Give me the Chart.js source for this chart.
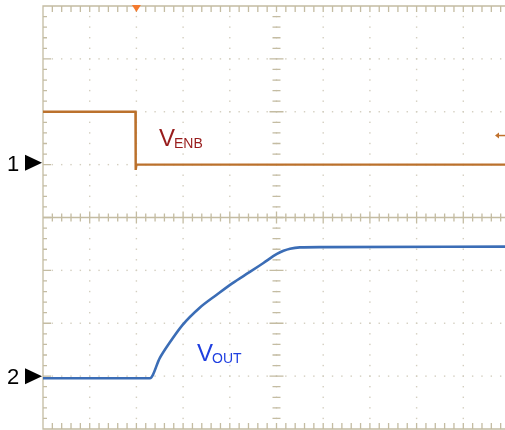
<!DOCTYPE html>
<html>
<head>
<meta charset="utf-8">
<script src="https://cdn.jsdelivr.net/npm/chart.js@4.4.1/dist/chart.umd.min.js"></script>
<style>
  html, body { margin: 0; padding: 0; background: #fff; overflow: hidden; }
  #scope { display: block; }
</style>
</head>
<body>
<canvas id="scope" width="515" height="430"></canvas>
<script>
// time in divisions (10 across), level in divisions (8 high, 0 = bottom)
const enbTime  = [0, 1.98, 1.985, 2.0, 10];
const enbLevel = [6.0, 6.0, 4.9, 5.0, 5.0];

const voutTime  = [0, 2.29, 2.50, 2.71, 2.99, 3.35, 3.72, 4.06, 4.43, 4.72, 5.01, 5.15, 5.29, 5.50, 6.0, 10];
const voutLevel = [0.96, 0.96, 1.34, 1.63, 1.97, 2.29, 2.54, 2.76, 2.97, 3.14, 3.31, 3.37, 3.41, 3.435, 3.44, 3.45];

const channelNames = ['1', '2'];
const channelGround = [5.0, 0.96];
const triggerTime = 2.0;
const triggerLevel = 5.55;

const pts = (xs, ys) => xs.map((t, i) => ({ x: t, y: ys[i] }));

const graticule = {
    id: 'graticule',
    beforeDatasetsDraw(chart) {
        const { ctx, chartArea: a, scales: { x, y } } = chart;
        ctx.save();
        // dotted division lines
        ctx.fillStyle = '#d3cebf';
        for (let i = 1; i < 10; i++) {
            if (i === 5) continue;
            const px = x.getPixelForValue(i);
            for (let j = 1; j < 40; j++) ctx.fillRect(px - 0.7, y.getPixelForValue(j * 0.2) - 0.7, 1.4, 1.4);
        }
        for (let j = 1; j < 8; j++) {
            if (j === 4) continue;
            const py = y.getPixelForValue(j);
            for (let i = 1; i < 50; i++) ctx.fillRect(x.getPixelForValue(i * 0.2) - 0.7, py - 0.7, 1.4, 1.4);
        }
        // center vertical dotted
        const cx = x.getPixelForValue(5), cy = y.getPixelForValue(4);
        for (let j = 1; j < 40; j++) ctx.fillRect(cx - 0.7, y.getPixelForValue(j * 0.2) - 0.7, 1.4, 1.4);

        ctx.strokeStyle = '#c4bca2';
        ctx.lineWidth = 1.3;
        // border
        ctx.beginPath();
        ctx.moveTo(a.right + 2, a.top); ctx.lineTo(a.left, a.top);
        ctx.lineTo(a.left, a.bottom); ctx.lineTo(a.right + 2, a.bottom);
        ctx.stroke();
        // center horizontal axis
        ctx.beginPath();
        ctx.moveTo(a.left, cy); ctx.lineTo(a.right + 2, cy);
        ctx.stroke();

        ctx.beginPath();
        for (let i = 1; i < 50; i++) {
            const px = x.getPixelForValue(i * 0.2);
            const major = i % 5 === 0;
            ctx.moveTo(px, a.top); ctx.lineTo(px, a.top + 6);
            ctx.moveTo(px, a.bottom); ctx.lineTo(px, a.bottom - 6);
            ctx.moveTo(px, cy - (major ? 6 : 4)); ctx.lineTo(px, cy + (major ? 6 : 4));
        }
        for (let j = 1; j < 40; j++) {
            const py = y.getPixelForValue(j * 0.2);
            const major = j % 5 === 0;
            ctx.moveTo(a.left, py); ctx.lineTo(a.left + (major ? 8 : 4), py);
            ctx.moveTo(cx - (major ? 7 : 4), py); ctx.lineTo(cx + (major ? 7 : 4), py);
        }
        ctx.stroke();
        ctx.restore();
    },
    afterDatasetsDraw(chart) {
        const { ctx, scales: { x, y }, chartArea: a } = chart;
        ctx.save();
        // channel ground markers
        ctx.fillStyle = '#000';
        ctx.font = '22px "Liberation Sans", Arial, sans-serif';
        ctx.textBaseline = 'alphabetic';
        channelNames.forEach((n, k) => {
            const py = y.getPixelForValue(channelGround[k]) - 2;
            ctx.fillText(n, 7, py + 8);
            ctx.beginPath();
            ctx.moveTo(25, py - 8); ctx.lineTo(25, py + 8); ctx.lineTo(42, py);
            ctx.closePath(); ctx.fill();
        });
        // trigger position marker
        const tx = x.getPixelForValue(triggerTime);
        ctx.fillStyle = '#f47a2e';
        ctx.beginPath();
        ctx.moveTo(tx - 4.5, a.top - 1); ctx.lineTo(tx + 4.5, a.top - 1); ctx.lineTo(tx, a.top + 6);
        ctx.closePath(); ctx.fill();
        // trigger level marker
        const ty = y.getPixelForValue(triggerLevel);
        ctx.fillStyle = '#c0712d';
        ctx.strokeStyle = '#c0712d';
        ctx.lineWidth = 1.5;
        ctx.beginPath();
        ctx.moveTo(495, ty); ctx.lineTo(499, ty - 3); ctx.lineTo(499, ty + 3); ctx.closePath(); ctx.fill();
        ctx.beginPath(); ctx.moveTo(498, ty); ctx.lineTo(506, ty); ctx.stroke();

        // trace labels
        const label = (main, sub, px, py, color, big, small) => {
            ctx.fillStyle = color;
            ctx.font = big + 'px "Liberation Sans", Arial, sans-serif';
            ctx.fillText(main, px, py);
            const w = ctx.measureText(main).width;
            ctx.font = small + 'px "Liberation Sans", Arial, sans-serif';
            ctx.fillText(sub, px + w - 1, py + 2);
        };
        label('V', 'ENB', 159, 146, '#981c1c', 24, 14);
        label('V', 'OUT', 197, 361, '#1f3fe0', 24, 14);
        ctx.restore();
    }
};

new Chart(document.getElementById('scope'), {
    type: 'scatter',
    data: {
        datasets: [
            {
                label: 'VENB',
                data: pts(enbTime, enbLevel),
                showLine: true,
                borderColor: '#bb712c',
                borderWidth: 2.4,
                pointRadius: 0,
                tension: 0
            },
            {
                label: 'VOUT',
                data: pts(voutTime, voutLevel),
                showLine: true,
                borderColor: '#3b6db6',
                borderWidth: 2.6,
                pointRadius: 0,
                cubicInterpolationMode: 'monotone'
            }
        ]
    },
    options: {
        responsive: false,
        animation: false,
        devicePixelRatio: 1,
        layout: { padding: { left: 43, right: 5, top: 6, bottom: 1 } },
        plugins: {
            legend: { display: false },
            tooltip: { enabled: false }
        },
        scales: {
            x: { type: 'linear', min: 0, max: 10, display: false },
            y: { type: 'linear', min: 0, max: 8, display: false }
        }
    },
    plugins: [graticule]
});
</script>
</body>
</html>
